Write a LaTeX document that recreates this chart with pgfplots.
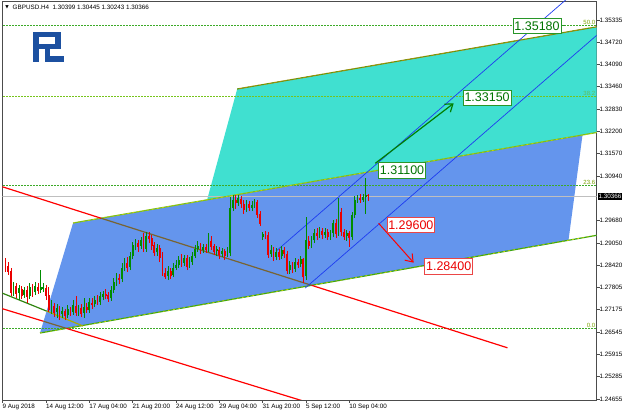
\documentclass[border=0pt]{standalone}
\usepackage{pgfplots}
\pgfplotsset{compat=1.18}
\usepackage{pgfplotstable}
\usepackage{fontspec}
\setmainfont{Liberation Sans}
\newfontfamily\dejavu{DejaVu Sans}
\usetikzlibrary{arrows.meta}

\definecolor{tealfill}{RGB}{64,224,208}
\definecolor{bluefill}{RGB}{100,149,237}
\definecolor{cgreen}{RGB}{0,140,0}
\definecolor{cred}{RGB}{235,0,0}
\definecolor{fibgreen}{RGB}{60,170,40}
\definecolor{fibtext}{RGB}{120,160,0}
\definecolor{chgreen}{RGB}{60,165,20}
\definecolor{chyellow}{RGB}{210,215,0}
\definecolor{chyg}{RGB}{120,190,30}
\definecolor{cholive}{RGB}{160,140,10}
\definecolor{redbrown}{RGB}{120,100,50}
\definecolor{thinblue}{RGB}{30,60,240}
\definecolor{boxgreen}{RGB}{40,150,40}
\definecolor{txtgreen}{RGB}{0,115,0}
\definecolor{boxred}{RGB}{235,70,70}
\definecolor{logoblue}{RGB}{28,80,160}

\pgfplotstableread{
i o h l c
-12 1.2767 1.2795 1.2756 1.2787
-10 1.2764 1.2787 1.2744 1.2778
-8 1.2758 1.2781 1.2750 1.2773
-6 1.2756 1.2792 1.2747 1.2781
-4 1.2767 1.2795 1.2758 1.2784
-2 1.2773 1.2829 1.2764 1.2781
-1 1.2775 1.2792 1.2767 1.2781
2 1.2719 1.2744 1.2705 1.2730
4 1.2710 1.2733 1.2694 1.2722
6 1.2705 1.2725 1.2694 1.2713
8 1.2702 1.2730 1.2694 1.2719
10 1.2710 1.2744 1.2702 1.2730
12 1.2710 1.2730 1.2699 1.2722
14 1.2708 1.2750 1.2694 1.2725
16 1.2716 1.2750 1.2708 1.2739
18 1.2733 1.2756 1.2725 1.2744
20 1.2739 1.2767 1.2730 1.2756
21 1.2753 1.2770 1.2744 1.2761
24 1.2750 1.2784 1.2742 1.2773
25 1.2773 1.2806 1.2764 1.2795
26 1.2792 1.2820 1.2784 1.2806
28 1.2804 1.2849 1.2795 1.2835
29 1.2835 1.2863 1.2826 1.2851
31 1.2837 1.2880 1.2829 1.2868
32 1.2868 1.2908 1.2860 1.2899
33 1.2897 1.2916 1.2885 1.2905
35 1.2897 1.2922 1.2888 1.2914
37 1.2888 1.2936 1.2880 1.2925
41 1.2880 1.2902 1.2868 1.2891
45 1.2812 1.2840 1.2801 1.2826
47 1.2815 1.2849 1.2809 1.2835
48 1.2835 1.2857 1.2829 1.2843
49 1.2843 1.2868 1.2835 1.2857
51 1.2849 1.2871 1.2840 1.2863
53 1.2840 1.2866 1.2835 1.2851
54 1.2851 1.2880 1.2843 1.2868
55 1.2868 1.2899 1.2863 1.2888
56 1.2888 1.2911 1.2880 1.2897
58 1.2885 1.2902 1.2877 1.2894
60 1.2888 1.2933 1.2880 1.2914
63 1.2883 1.2897 1.2868 1.2888
65 1.2874 1.2891 1.2866 1.2883
67 1.2871 1.2894 1.2866 1.2877
68 1.2877 1.3035 1.2868 1.3004
69 1.3004 1.3040 1.2995 1.3026
71 1.3018 1.3040 1.3009 1.3032
74 1.3001 1.3026 1.2992 1.3015
76 1.3004 1.3024 1.2995 1.3012
77 1.3012 1.3029 1.3004 1.3021
80 1.2922 1.2936 1.2914 1.2930
83 1.2874 1.2899 1.2866 1.2885
85 1.2866 1.2891 1.2857 1.2880
87 1.2868 1.2897 1.2860 1.2885
90 1.2829 1.2854 1.2818 1.2843
92 1.2832 1.2863 1.2823 1.2851
94 1.2846 1.2868 1.2837 1.2860
96 1.2812 1.2978 1.2801 1.2914
98 1.2899 1.2925 1.2891 1.2914
99 1.2914 1.2945 1.2905 1.2933
101 1.2928 1.2950 1.2919 1.2939
103 1.2928 1.2947 1.2919 1.2936
105 1.2925 1.2942 1.2914 1.2933
106 1.2933 1.2970 1.2922 1.2961
108 1.2933 1.3032 1.2925 1.2998
111 1.2925 1.2942 1.2911 1.2933
113 1.2922 1.2992 1.2914 1.2984
114 1.2984 1.3038 1.2976 1.3026
115 1.3026 1.3040 1.3018 1.3032
117 1.3026 1.3043 1.3021 1.3035
118 1.3035 1.3088 1.2987 1.3040
}\updata

\pgfplotstableread{
i o h l c
-15 1.2849 1.2863 1.2823 1.2835
-14 1.2840 1.2851 1.2815 1.2823
-13 1.2826 1.2835 1.2756 1.2764
-11 1.2784 1.2792 1.2750 1.2761
-9 1.2775 1.2784 1.2747 1.2756
-7 1.2773 1.2784 1.2736 1.2753
-5 1.2775 1.2789 1.2753 1.2764
-3 1.2781 1.2792 1.2761 1.2770
0 1.2778 1.2787 1.2744 1.2756
1 1.2758 1.2781 1.2710 1.2716
3 1.2727 1.2736 1.2696 1.2708
5 1.2719 1.2727 1.2688 1.2702
7 1.2713 1.2719 1.2688 1.2699
9 1.2716 1.2725 1.2699 1.2710
11 1.2727 1.2756 1.2699 1.2708
13 1.2722 1.2733 1.2696 1.2705
15 1.2725 1.2736 1.2708 1.2716
17 1.2736 1.2750 1.2719 1.2730
19 1.2744 1.2758 1.2730 1.2739
22 1.2761 1.2775 1.2747 1.2756
23 1.2758 1.2767 1.2739 1.2747
27 1.2806 1.2818 1.2789 1.2801
30 1.2849 1.2866 1.2823 1.2835
34 1.2905 1.2914 1.2880 1.2894
36 1.2911 1.2933 1.2880 1.2885
38 1.2925 1.2936 1.2905 1.2916
39 1.2919 1.2928 1.2885 1.2897
40 1.2899 1.2908 1.2868 1.2877
42 1.2891 1.2899 1.2851 1.2863
43 1.2866 1.2880 1.2812 1.2818
44 1.2820 1.2835 1.2804 1.2809
46 1.2826 1.2835 1.2804 1.2812
50 1.2854 1.2874 1.2837 1.2846
52 1.2863 1.2871 1.2829 1.2837
57 1.2894 1.2905 1.2874 1.2883
59 1.2894 1.2902 1.2877 1.2885
61 1.2911 1.2925 1.2885 1.2894
62 1.2897 1.2902 1.2871 1.2880
64 1.2885 1.2894 1.2860 1.2871
66 1.2883 1.2888 1.2857 1.2868
70 1.3026 1.3040 1.3001 1.3018
72 1.3029 1.3038 1.3004 1.3015
73 1.3015 1.3026 1.2987 1.2998
75 1.3015 1.3024 1.2995 1.3004
78 1.3021 1.3026 1.2976 1.2984
79 1.2987 1.2995 1.2953 1.2959
81 1.2930 1.2939 1.2916 1.2925
82 1.2928 1.2936 1.2863 1.2871
84 1.2885 1.2894 1.2854 1.2863
86 1.2880 1.2888 1.2857 1.2866
88 1.2885 1.2894 1.2863 1.2874
89 1.2874 1.2883 1.2818 1.2826
91 1.2843 1.2851 1.2820 1.2829
93 1.2851 1.2860 1.2835 1.2843
95 1.2860 1.2863 1.2792 1.2809
97 1.2911 1.2925 1.2888 1.2897
100 1.2933 1.2947 1.2914 1.2925
102 1.2939 1.2947 1.2916 1.2928
104 1.2936 1.2945 1.2914 1.2922
107 1.2961 1.2973 1.2919 1.2930
109 1.2992 1.3004 1.2925 1.2936
110 1.2936 1.2945 1.2914 1.2922
112 1.2933 1.2939 1.2894 1.2919
116 1.3032 1.3043 1.3018 1.3026
119 1.30399 1.30445 1.30243 1.30366
}\downdata

\tikzset{
  gbox/.style={draw=boxgreen, fill=white, text=txtgreen, line width=0.7pt,
    font=\fontsize{12.5}{13}\selectfont, inner xsep=1.3pt, inner ysep=0pt, minimum height=15.5pt},
  rbox/.style={draw=boxred, fill=white, text=cred, line width=0.7pt,
    font=\fontsize{12.5}{13}\selectfont, inner xsep=1.3pt, inner ysep=0pt, minimum height=15.5pt},
  fiblbl/.style={anchor=south east, text=fibtext, inner sep=0.5pt, font=\fontsize{6}{6}\selectfont},
}

\begin{document}
\begin{tikzpicture}
\useasboundingbox (0,0) rectangle (625pt,415pt);
\begin{axis}[
  at={(2.5pt,15pt)}, anchor=south west,
  scale only axis, width=594pt, height=399pt,
  xmin=-16.08, xmax=203.25, ymin=1.24627, ymax=1.35871,
  axis line style={black!70, line width=0.6pt},
  tick align=outside, major tick length=3pt,
  tick style={black!70, line width=0.5pt},
  xtick pos=lower, ytick pos=right, yticklabel pos=right,
  xtick={-16,0,16,32,48,64,80,96,112},
  xticklabels={9 Aug 2018,14 Aug 12:00,17 Aug 04:00,21 Aug 20:00,24 Aug 12:00,29 Aug 04:00,31 Aug 20:00,5 Sep 12:00,10 Sep 04:00},
  xticklabel style={anchor=north west, xshift=-1.2pt, yshift=0pt, inner sep=1pt},
  ytick={1.24655,1.25285,1.25915,1.26545,1.27175,1.27805,1.28420,1.29050,1.29680,1.30940,1.31570,1.32200,1.32830,1.33460,1.34090,1.34720,1.35335},
  yticklabels={1.24655,1.25285,1.25915,1.26545,1.27175,1.27805,1.28420,1.29050,1.29680,1.30940,1.31570,1.32200,1.32830,1.33460,1.34090,1.34720,1.35335},
  yticklabel style={anchor=west, xshift=-1pt, inner sep=1pt},
  ticklabel style={font=\fontsize{6.3}{7}\selectfont, text=black},
  clip=true,
]
% channel fills
\addplot[fill=tealfill, draw=none, forget plot] coordinates {(59.5,1.30277) (70.58,1.33391) (204,1.35152) (204,1.32174)} -- cycle;
\addplot[fill=bluefill, draw=none, forget plot] coordinates {(-2.22,1.26515) (9.98,1.29615) (198.08,1.32095) (192.9,1.29122)} -- cycle;

% fibo levels
\addplot[fibgreen, line width=0.6pt, dash pattern=on 1.5pt off 1.5pt, forget plot] coordinates {(-17,1.26642) (205,1.26642)};
\addplot[fibgreen, line width=0.6pt, dash pattern=on 1.5pt off 1.5pt, forget plot] coordinates {(-17,1.30680) (205,1.30680)};
\addplot[fibgreen!70!yellow, line width=0.6pt, dash pattern=on 1.5pt off 1.5pt, forget plot] coordinates {(-17,1.33180) (205,1.33180)};
\addplot[fibgreen, line width=0.6pt, dash pattern=on 1.5pt off 1.5pt, forget plot] coordinates {(-17,1.35194) (205,1.35194)};
\node[fiblbl] at (axis cs:203.0,1.35194) {50.0};
\node[fiblbl, opacity=0.55] at (axis cs:203.0,1.33180) {38.2};
\node[fiblbl] at (axis cs:203.0,1.30680) {23.6};
\node[fiblbl] at (axis cs:203.0,1.26642) {0.0};

% current price line
\addplot[black!25, line width=0.6pt, forget plot] coordinates {(-17,1.30366) (205,1.30366)};

% channel border lines
\addplot[chyg, line width=1.2pt, forget plot] coordinates {(9.98,1.29615) (204,1.32174)};
\addplot[chyellow, line width=0.6pt, dash pattern=on 2pt off 3pt, forget plot] coordinates {(9.98,1.29615) (204,1.32174)};
\addplot[chgreen, line width=1.2pt, forget plot] coordinates {(-2.22,1.26515) (204,1.29277)};
\addplot[chyellow, line width=0.6pt, dash pattern=on 2pt off 3pt, forget plot] coordinates {(-2.22,1.26515) (204,1.29277)};
\addplot[cholive, line width=1.2pt, forget plot] coordinates {(70.58,1.33391) (204,1.35152)};
\addplot[chgreen, line width=0.6pt, dash pattern=on 2pt off 3pt, forget plot] coordinates {(70.58,1.33391) (204,1.35152)};

% left green trend line
\addplot[chgreen!80!black, line width=1.2pt, forget plot] coordinates {(-17,1.27665) (0.21,1.27132)};
\addplot[chyellow!80!black, line width=1.2pt, forget plot] coordinates {(0.21,1.27132) (13.67,1.26712)};

% red lines
\addplot[red, line width=1.2pt, forget plot] coordinates {(-17,1.30657) (20.29,1.29750)};
\addplot[redbrown, line width=1.2pt, forget plot] coordinates {(20.29,1.29750) (98.15,1.27856)};
\addplot[red, line width=1.2pt, forget plot] coordinates {(98.15,1.27856) (170.36,1.26098)};
\addplot[red, line width=1.2pt, forget plot] coordinates {(-17,1.27220) (-0.92,1.26845)};
\addplot[redbrown, line width=1.2pt, forget plot] coordinates {(-0.92,1.26845) (7.54,1.26645)};
\addplot[red, line width=1.2pt, forget plot] coordinates {(7.54,1.26645) (97.56,1.24537)};

% thin blue channel
\addplot[thinblue, line width=0.7pt, forget plot] coordinates {(85.0,1.28826) (196,1.36174)};
\addplot[thinblue, line width=0.7pt, forget plot] coordinates {(95.71,1.27783) (204,1.34949)};

% candles: wicks
\addplot[draw=none, mark=none, forget plot, error bars/.cd, y dir=plus, y explicit, error mark=none,
  error bar style={draw=cgreen, line width=0.6pt}]
  table[x=i, y=l, y error expr=\thisrow{h}-\thisrow{l}] {\updata};
\addplot[draw=none, mark=none, forget plot, error bars/.cd, y dir=plus, y explicit, error mark=none,
  error bar style={draw=cred, line width=0.6pt}]
  table[x=i, y=l, y error expr=\thisrow{h}-\thisrow{l}] {\downdata};
% candles: bodies
\addplot[draw=none, mark=none, forget plot, error bars/.cd, y dir=plus, y explicit, error mark=none,
  error bar style={draw=cgreen, line width=1.8pt}]
  table[x=i, y=o, y error expr=\thisrow{c}-\thisrow{o}] {\updata};
\addplot[draw=none, mark=none, forget plot, error bars/.cd, y dir=plus, y explicit, error mark=none,
  error bar style={draw=cred, line width=1.8pt}]
  table[x=i, y=c, y error expr=\thisrow{o}-\thisrow{c}] {\downdata};

% arrows
\addplot[green!50!black, line width=1.2pt, -{Straight Barb[length=7pt,width=10pt]}, forget plot] coordinates {(121.58,1.31297) (150.52,1.32988)};
\addplot[red, line width=1pt, -{Straight Barb[length=7pt,width=10pt]}, forget plot] coordinates {(122.80,1.29606) (135.74,1.28496)};

% level labels
\addplot[boxgreen, line width=0.8pt, forget plot] coordinates {(188,1.35172) (191.5,1.35172)};
\node[gbox] at (axis cs:181.3,1.35172) {1.35180};
\node[gbox] at (axis cs:162.86,1.33146) {1.33150};
\node[gbox] at (axis cs:131.45,1.31094) {1.31100};
\node[rbox] at (axis cs:134.7,1.29559) {1.29600};
\node[rbox] at (axis cs:148.67,1.28398) {1.28400};

\coordinate (cp) at (axis cs:203.25,1.30366);
\end{axis}

\node[fill=black, text=white, anchor=west, inner xsep=1pt, inner ysep=1.2pt,
  font=\fontsize{6.3}{7}\selectfont] at ([xshift=0.8pt]cp) {1.30366};

\begin{scope}[x=1pt,y=-1pt,shift={(0pt,415pt)}]
  \draw[logoblue, line width=5.5pt, miter limit=10] (36,62) -- (36,34.75) -- (58,34.75) -- (58,46.5) -- (36,46.5);
  \draw[logoblue, line width=5.5pt, miter limit=10] (47.5,46.5) -- (47.5,59) -- (63.5,59);
  \node[anchor=center, inner sep=0pt, font=\dejavu\fontsize{4.5}{5}\selectfont] at (7,7.5) {▼};
  \node[anchor=west, inner sep=0pt, font=\fontsize{6.3}{7}\selectfont] at (12.5,7.5) {GBPUSD.H4\ \ 1.30399 1.30445 1.30243 1.30366};
\end{scope}
\end{tikzpicture}
\end{document}
